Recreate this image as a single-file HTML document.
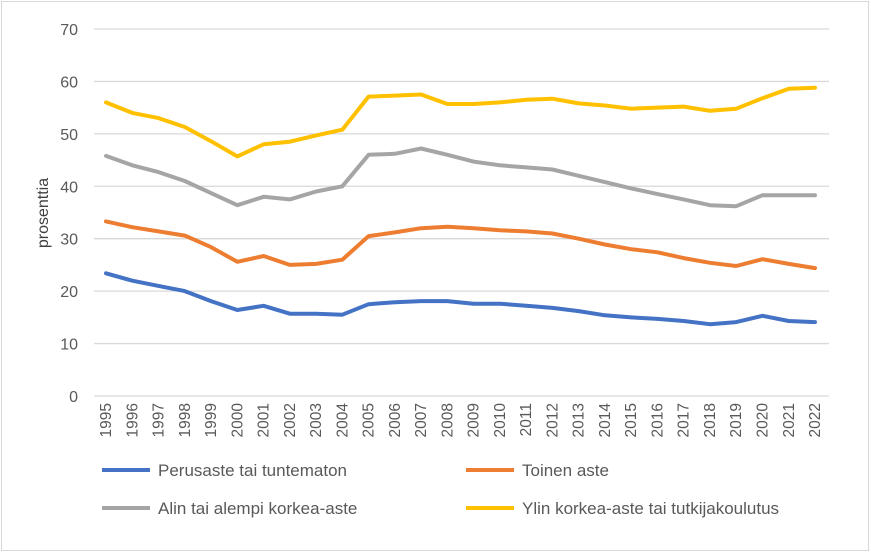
<!DOCTYPE html>
<html><head><meta charset="utf-8"><style>
body{margin:0;background:#fff;}
svg{display:block;font-family:"Liberation Sans",sans-serif;}
</style></head><body>
<svg id="s" width="871" height="553" xmlns="http://www.w3.org/2000/svg">
<rect x="1.5" y="1.5" width="867" height="549" fill="#fff" stroke="#d9d9d9"/>
<g id="grid" stroke="#d9d9d9" stroke-width="1.3"></g>
<g id="yl" font-size="16" fill="#595959" text-anchor="end"></g>
<g id="xl" font-size="15.5" fill="#595959" text-anchor="end"></g>
<text transform="translate(48,213) rotate(-90)" font-size="16" fill="#404040" text-anchor="middle">prosenttia</text>
<g id="lines" fill="none" stroke-width="4" stroke-linejoin="round" stroke-linecap="round"></g>
<g font-size="17" fill="#595959">
<line x1="102" y1="470" x2="150" y2="470" stroke="#4472c4" stroke-width="4"/><text x="158" y="476">Perusaste tai tuntematon</text>
<line x1="466" y1="470" x2="514" y2="470" stroke="#ed7d31" stroke-width="4"/><text x="522" y="476">Toinen aste</text>
<line x1="102" y1="508" x2="150" y2="508" stroke="#a5a5a5" stroke-width="4"/><text x="158" y="514">Alin tai alempi korkea-aste</text>
<line x1="466" y1="508" x2="514" y2="508" stroke="#ffc000" stroke-width="4"/><text x="522" y="514">Ylin korkea-aste tai tutkijakoulutus</text>
</g>
</svg>
<script>
var NS="http://www.w3.org/2000/svg";
function el(p,t,a,txt){var e=document.createElementNS(NS,t);for(var k in a)e.setAttribute(k,a[k]);if(txt!==undefined)e.textContent=txt;document.getElementById(p).appendChild(e);}
function Y(v){return 396-v*5.243;}
function X(i){return 106+i*26.26;}
for(var v=0;v<=70;v+=10){el("grid","line",{x1:94,x2:829,y1:Y(v),y2:Y(v)});el("yl","text",{x:78,y:Y(v)+6},v);}
for(var i=0;i<28;i++){var x=X(i)+5;el("xl","text",{transform:"translate("+x+",403) rotate(-90)"},1995+i);}
var d={
"#ffc000":[56,54,53,51.3,48.6,45.7,48,48.5,49.7,50.8,57.1,57.3,57.5,55.7,55.7,56,56.5,56.7,55.8,55.4,54.8,55,55.2,54.4,54.8,56.8,58.6,58.8],
"#a5a5a5":[45.8,44,42.7,41,38.7,36.4,38,37.5,39,40,46,46.2,47.2,46,44.7,44,43.6,43.2,42,40.8,39.6,38.5,37.5,36.4,36.2,38.3,38.3,38.3],
"#ed7d31":[33.3,32.2,31.4,30.6,28.4,25.6,26.7,25,25.2,26,30.5,31.2,32,32.3,32,31.6,31.4,31,30,28.9,28,27.4,26.3,25.4,24.8,26.1,25.2,24.4],
"#4472c4":[23.4,22,21,20,18.1,16.4,17.2,15.7,15.7,15.5,17.5,17.9,18.1,18.1,17.6,17.6,17.2,16.8,16.2,15.4,15,14.7,14.3,13.7,14.1,15.3,14.3,14.1]};
for(var c in d){var p=d[c].map(function(v,i){return X(i).toFixed(1)+","+Y(v).toFixed(1)}).join(" ");el("lines","polyline",{points:p,stroke:c});}
</script>
</body></html>
